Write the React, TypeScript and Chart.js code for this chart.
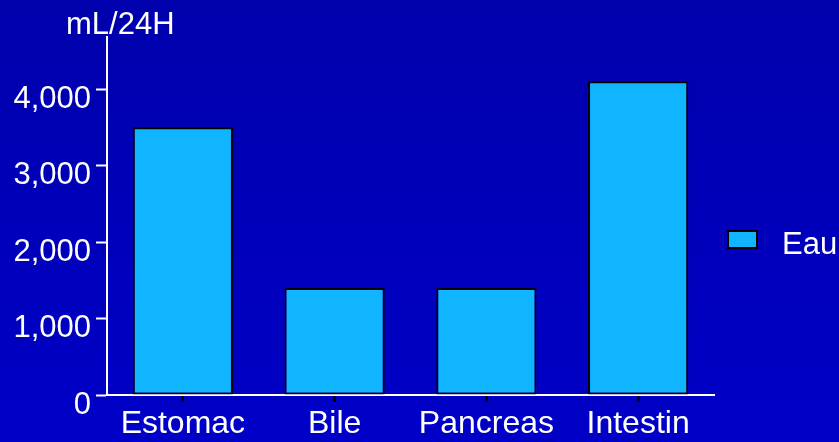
import React, { useEffect, useRef } from "react";
import { Chart, registerables } from "chart.js";

Chart.register(...registerables);

const categories = ["Estomac", "Bile", "Pancreas", "Intestin"];
const eauValues = [3500, 1400, 1400, 4100];
const seriesLabel = "Eau";
const axisTitle = "mL/24H";
const yMax = 4680;
const yTickValues = [0, 1000, 2000, 3000, 4000];

const FONT = "'Liberation Sans', Arial, sans-serif";

export default function App() {
  const ref = useRef<HTMLCanvasElement>(null);

  useEffect(() => {
    const canvas = ref.current!;
    const bgPlugin = {
      id: "bg",
      beforeDraw(chart: any) {
        const { ctx, width, height } = chart;
        const g = ctx.createLinearGradient(0, 0, 0, height);
        g.addColorStop(0, "#0000AC");
        g.addColorStop(1, "#0000C8");
        ctx.save();
        ctx.fillStyle = g;
        ctx.fillRect(0, 0, width, height);
        ctx.restore();
      },
    };
    const textPlugin = {
      id: "texts",
      afterDraw(chart: any) {
        const { ctx } = chart;
        ctx.save();
        ctx.font = `31px ${FONT}`;
        ctx.fillStyle = "#FFFFFF";
        ctx.textBaseline = "alphabetic";
        ctx.textAlign = "left";
        ctx.fillText(axisTitle, 66, 34);
        // legend
        ctx.fillStyle = "#10B4FF";
        ctx.fillRect(728, 231, 29, 17);
        ctx.strokeStyle = "#000000";
        ctx.lineWidth = 2;
        ctx.strokeRect(728, 231, 29, 17);
        ctx.fillStyle = "#FFFFFF";
        ctx.fillText(seriesLabel, 782, 254);
        ctx.restore();
      },
    };

    const chart = new Chart(canvas, {
      type: "bar",
      data: {
        labels: categories,
        datasets: [
          {
            label: seriesLabel,
            data: eauValues,
            backgroundColor: "#10B4FF",
            borderColor: "#000000",
            borderWidth: 2,
            borderSkipped: false,
            barPercentage: 0.66,
            categoryPercentage: 1,
          },
        ],
      },
      options: {
        responsive: false,
        animation: false,
        layout: { padding: { top: 37, right: 125, left: 0, bottom: 0 } },
        plugins: {
          legend: { display: false },
          tooltip: { enabled: false },
        },
        scales: {
          x: {
            afterFit(scale: any) {
              scale.height = 47;
            },
            border: { display: true, color: "#FFFFFF", width: 2 },
            grid: {
              display: true,
              offset: false,
              drawOnChartArea: false,
              drawTicks: true,
              tickLength: 7,
              tickColor: "#000000",
              tickWidth: 3,
            },
            ticks: {
              color: "#FFFFFF",
              font: { family: FONT, size: 32 },
              padding: 3,
              maxRotation: 0,
              autoSkip: false,
            },
          },
          y: {
            min: 0,
            max: yMax,
            afterFit(scale: any) {
              scale.width = 107;
            },
            afterBuildTicks(scale: any) {
              scale.ticks = yTickValues.map((v) => ({ value: v }));
            },
            border: { display: true, color: "#FFFFFF", width: 2 },
            grid: {
              display: true,
              drawOnChartArea: false,
              drawTicks: true,
              tickLength: 11,
              tickColor: "#FFFFFF",
              tickWidth: 2,
            },
            ticks: {
              color: "#FFFFFF",
              font: { family: FONT, size: 31 },
              padding: 5,
              labelOffset: 10,
              callback: (v: any) => Number(v).toLocaleString("en-US"),
            },
          },
        },
      },
      plugins: [bgPlugin, textPlugin],
    } as any);
    return () => chart.destroy();
  }, []);

  return (
    <div style={{ position: "fixed", left: 0, top: 0, width: 839, height: 442 }}>
      <canvas ref={ref} width={839} height={442} style={{ display: "block" }} />
    </div>
  );
}
